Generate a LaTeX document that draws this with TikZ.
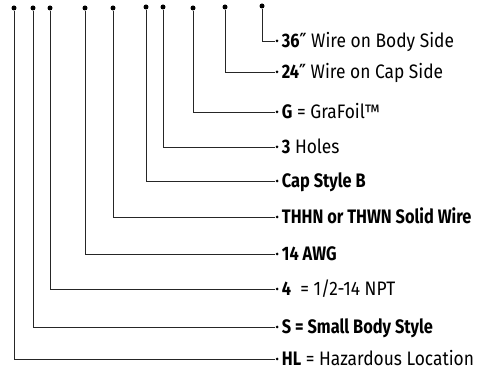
\documentclass[tikz,border=0pt]{standalone}
\usepackage{fontspec}
\setmainfont{Fira Sans}[FakeStretch=0.89, BoldFeatures={FakeStretch=0.84}]
\newfontfamily\primefont{DejaVu Sans}[FakeStretch=0.8]
\newcommand{\inch}{{\primefont\char"2033}}
\usetikzlibrary{positioning}

\begin{document}
\begin{tikzpicture}[
  x=1pt, y=1pt,
  font=\fontsize{19.5}{22}\selectfont,
  pin/.style={circle, fill=black, inner sep=0pt, minimum size=5pt},
  tip/.style={circle, fill=black, inner sep=0pt, minimum size=3pt},
  partname/.style={anchor=west, inner sep=0pt, text height=13.4pt, text depth=0pt},
  lead/.style={draw=black!85, line width=0.9pt}
]
\useasboundingbox (0,0) rectangle (497,371);

% pins along the top, one per code letter
\node[pin] (p-hl)    at (14,363) {};
\node[pin] (p-s)     at (33,363) {};
\node[pin] (p-npt)   at (50,363) {};
\node[pin] (p-awg)   at (85,363) {};
\node[pin] (p-thhn)  at (113,363) {};
\node[pin] (p-cap)   at (146,364) {};
\node[pin] (p-holes) at (163,364) {};
\node[pin] (p-seal)  at (193,363) {};
\node[pin] (p-capw)  at (225,364) {};
\node[pin] (p-bodyw) at (262,365) {};

% ends of the leads and their texts
\node[tip] (t-bodyw) at (277,330) {};
\node[tip] (t-capw)  at (277,299) {};
\node[tip] (t-seal)  at (277,259) {};
\node[tip] (t-holes) at (277,224) {};
\node[tip] (t-cap)   at (277,190) {};
\node[tip] (t-thhn)  at (277,154) {};
\node[tip] (t-awg)   at (277,117) {};
\node[tip] (t-npt)   at (277,82) {};
\node[tip] (t-s)     at (277,44) {};
\node[tip] (t-hl)    at (277,12) {};

\node[partname, right=3pt of t-bodyw] (n-bodyw) {\textbf{36\inch} Wire on Body Side};
\node[partname, right=3pt of t-capw]  (n-capw)  {\textbf{24\inch} Wire on Cap Side};
\node[partname, right=3pt of t-seal]  (n-seal)  {\textbf{G} = GraFoil™};
\node[partname, right=3pt of t-holes] (n-holes) {\textbf{3} Holes};
\node[partname, right=3pt of t-cap]   (n-cap)   {\textbf{Cap Style B}};
\node[partname, right=3pt of t-thhn]  (n-thhn)  {\textbf{THHN or THWN Solid Wire}};
\node[partname, right=3pt of t-awg]   (n-awg)   {\textbf{14 AWG}};
\node[partname, right=3pt of t-npt]   (n-npt)   {\textbf{4}\ \ = 1/2-14 NPT};
\node[partname, right=3pt of t-s]     (n-s)     {\textbf{S = Small Body Style}};
\node[partname, right=3pt of t-hl]    (n-hl)    {\textbf{HL} = Hazardous Location};

\draw[lead] (p-bodyw) |- (t-bodyw);
\draw[lead] (p-capw)  |- (t-capw);
\draw[lead] (p-seal)  |- (t-seal);
\draw[lead] (p-holes) |- (t-holes);
\draw[lead] (p-cap)   |- (t-cap);
\draw[lead] (p-thhn)  |- (t-thhn);
\draw[lead] (p-awg)   |- (t-awg);
\draw[lead] (p-npt)   |- (t-npt);
\draw[lead] (p-s)     |- (t-s);
\draw[lead] (p-hl)    |- (t-hl);

\end{tikzpicture}
\end{document}
